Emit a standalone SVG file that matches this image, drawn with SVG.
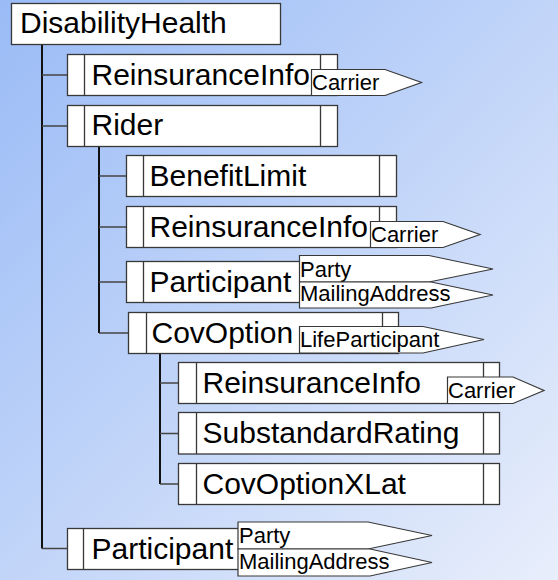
<svg xmlns="http://www.w3.org/2000/svg" width="558" height="580" viewBox="0 0 558 580">
<defs>
<linearGradient id="bg" x1="0" y1="0" x2="1" y2="1">
<stop offset="0" stop-color="#9abbf6"/>
<stop offset="1" stop-color="#e8eefb"/>
</linearGradient>
<style>
.box{fill:#fff;stroke:#383838;stroke-width:1.3}
.dv{stroke:#383838;stroke-width:1.3;fill:none}
.tag{fill:#fff;stroke:#383838;stroke-width:1.2}
.lbl{font-family:"Liberation Sans",Arial,sans-serif;font-size:30px;fill:#000}
.tl{font-family:"Liberation Sans",Arial,sans-serif;font-size:22px;fill:#000}
.cv{stroke:#111;stroke-width:2;fill:none}
.ch{stroke:#444;stroke-width:1.5;fill:none}
</style>
</defs>
<rect x="0" y="0" width="558" height="580" fill="url(#bg)"/>

<g id="connectors">
<path class="cv" d="M42 44V548.5"/>
<path class="ch" d="M42 75H67M42 126H67M42 548.5H67"/>
<path class="cv" d="M99 146.5V333"/>
<path class="ch" d="M99 176H126M99 227H126M99 282H126M99 333H128"/>
<path class="cv" d="M160 353.5V484"/>
<path class="ch" d="M160 383H178M160 433.5H178M160 484H178"/>
</g>

<g id="DisabilityHealth">
<rect class="box" x="11.5" y="3.5" width="269" height="41"/>
<text class="lbl" x="20" y="33">DisabilityHealth</text>
</g>

<g id="ReinsuranceInfo1">
<rect class="box" x="67.5" y="54.5" width="270" height="41"/>
<path class="dv" d="M84.5 54.5V95.5M320.5 54.5V95.5"/>
<text class="lbl" x="91.5" y="84.5">ReinsuranceInfo</text>
<polygon class="tag" points="311.5,69.5 385,69.5 421.5,82.5 385,95.5 311.5,95.5"/>
<text class="tl" x="312" y="89.5">Carrier</text>
</g>

<g id="Rider">
<rect class="box" x="67.5" y="105.5" width="270" height="41"/>
<path class="dv" d="M84.5 105.5V146.5M320.5 105.5V146.5"/>
<text class="lbl" x="91.5" y="135">Rider</text>
</g>

<g id="BenefitLimit">
<rect class="box" x="126.5" y="155.5" width="270" height="41"/>
<path class="dv" d="M143.5 155.5V196.5M379.5 155.5V196.5"/>
<text class="lbl" x="149.5" y="185.5">BenefitLimit</text>
</g>

<g id="ReinsuranceInfo2">
<rect class="box" x="126.5" y="206.5" width="270" height="41"/>
<path class="dv" d="M143.5 206.5V247.5M379.5 206.5V247.5"/>
<text class="lbl" x="149.5" y="236.5">ReinsuranceInfo</text>
<polygon class="tag" points="370.5,221.5 443,221.5 480,234.5 443,247.5 370.5,247.5"/>
<text class="tl" x="371" y="241.5">Carrier</text>
</g>

<g id="Participant2">
<rect class="box" x="126.5" y="261.5" width="270" height="41"/>
<path class="dv" d="M143.5 261.5V302.5M379.5 261.5V302.5"/>
<text class="lbl" x="149.5" y="291.5">Participant</text>
<polygon class="tag" points="299.5,255.5 429,255.5 493,269 429,282 299.5,282"/>
<text class="tl" x="300" y="276.5">Party</text>
<polygon class="tag" points="299.5,282 431,282 493,295 431,308 299.5,308"/>
<text class="tl" x="300" y="301">MailingAddress</text>
</g>

<g id="CovOption">
<rect class="box" x="128.5" y="312.5" width="270" height="41"/>
<path class="dv" d="M146.5 312.5V353.5M382.5 312.5V353.5"/>
<text class="lbl" x="151.5" y="342.5">CovOption</text>
<polygon class="tag" points="299.5,326.5 423,326.5 484,339.5 423,353 299.5,353"/>
<text class="tl" x="300" y="346.5">LifeParticipant</text>
</g>

<g id="ReinsuranceInfo3">
<rect class="box" x="178.5" y="362.5" width="321" height="41"/>
<path class="dv" d="M196.5 362.5V403.5M483.5 362.5V403.5"/>
<text class="lbl" x="202.5" y="392.5">ReinsuranceInfo</text>
<polygon class="tag" points="447.5,377 513,377 544,390.5 513,403.5 447.5,403.5"/>
<text class="tl" x="448" y="397.5">Carrier</text>
</g>

<g id="SubstandardRating">
<rect class="box" x="178.5" y="412.5" width="321" height="41.5"/>
<path class="dv" d="M196.5 412.5V454M483.5 412.5V454"/>
<text class="lbl" x="202.5" y="443">SubstandardRating</text>
</g>

<g id="CovOptionXLat">
<rect class="box" x="178.5" y="463.5" width="321" height="41"/>
<path class="dv" d="M196.5 463.5V504.5M483.5 463.5V504.5"/>
<text class="lbl" x="202.5" y="493.5">CovOptionXLat</text>
</g>

<g id="Participant1">
<rect class="box" x="67.5" y="528.5" width="270" height="41"/>
<path class="dv" d="M83.5 528.5V569.5M320.5 528.5V569.5"/>
<text class="lbl" x="91.5" y="558.5">Participant</text>
<polygon class="tag" points="238,522 368,522 432,535.5 368,549 238,549"/>
<text class="tl" x="239" y="543">Party</text>
<polygon class="tag" points="238,549 370,549 432,562.5 370,576 238,576"/>
<text class="tl" x="239" y="569">MailingAddress</text>
</g>
</svg>
